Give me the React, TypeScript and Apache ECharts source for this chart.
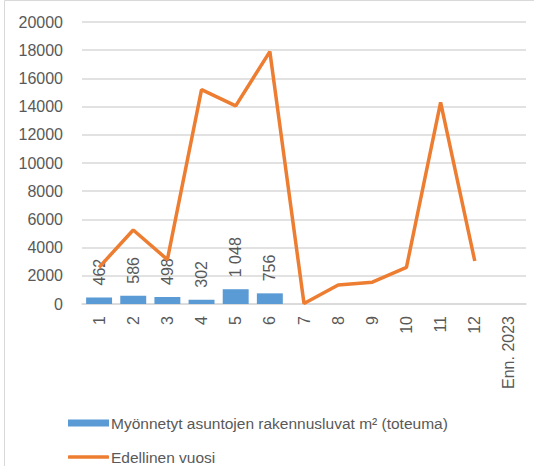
import React, { useEffect, useRef } from "react";
import * as echarts from "echarts";

const categories = ["1", "2", "3", "4", "5", "6", "7", "8", "9", "10", "11", "12", "Enn. 2023"];
const permits = [462, 586, 498, 302, 1048, 756, null, null, null, null, null, null, null];
const previousYear = [2600, 5250, 3150, 15200, 14050, 17900, 30, 1350, 1550, 2600, 14300, 3050, null];
const yTicks = { min: 0, max: 20000, interval: 2000 };
const seriesNames = ["Myönnetyt asuntojen rakennusluvat m² (toteuma)", "Edellinen vuosi"];

const FONT = "Liberation Sans";
const GRAY = "#595959";

export default function App() {
  const ref = useRef<HTMLDivElement>(null);
  useEffect(() => {
    document.body.style.margin = "0";
    const chart = echarts.init(ref.current!, null, { renderer: "svg" });
    const legendText = { fontFamily: FONT, fontSize: 15.5, color: GRAY, padding: [0, 0, 0, -3] };
    chart.setOption({
      animation: false,
      backgroundColor: "#ffffff",
      textStyle: { fontFamily: FONT },
      graphic: [
        {
          type: "rect",
          shape: { x: 4.5, y: 0.5, width: 600, height: 600 },
          style: { fill: "none", stroke: "#D9D9D9", lineWidth: 1 },
          silent: true,
        },
      ],
      grid: { left: 82, right: 8, top: 22, bottom: 162, containLabel: false },
      legend: [
        {
          orient: "horizontal",
          left: 68,
          top: 415,
          padding: 0,
          itemWidth: 41,
          itemHeight: 7,
          icon: "rect",
          textStyle: legendText,
          data: [seriesNames[0]],
        },
        {
          orient: "horizontal",
          left: 68,
          top: 449,
          padding: 0,
          itemWidth: 41,
          itemHeight: 3.5,
          icon: "roundRect",
          textStyle: legendText,
          data: [seriesNames[1]],
        },
      ],
      xAxis: {
        type: "category",
        data: categories,
        axisLine: { show: true, lineStyle: { color: "#D9D9D9", width: 1.5 } },
        axisTick: { show: false },
        axisLabel: { rotate: 90, color: GRAY, fontSize: 16, fontFamily: FONT, margin: 12 },
      },
      yAxis: {
        type: "value",
        min: yTicks.min,
        max: yTicks.max,
        interval: yTicks.interval,
        axisLine: { show: false },
        axisTick: { show: false },
        splitLine: { lineStyle: { color: "#D9D9D9", width: 1.5 } },
        axisLabel: { color: GRAY, fontSize: 16, fontFamily: FONT, margin: 19, formatter: (v: number) => String(v) },
      },
      series: [
        {
          name: seriesNames[0],
          type: "bar",
          data: permits,
          barCategoryGap: "24%",
          itemStyle: { color: "#5B9BD5" },
          label: {
            show: true,
            position: "top",
            distance: 12,
            rotate: 90,
            align: "left",
            verticalAlign: "middle",
            color: GRAY,
            fontSize: 16,
            fontFamily: FONT,
            formatter: (p: any) => String(p.value).replace(/\B(?=(\d{3})+(?!\d))/g, " "),
          },
        },
        {
          name: seriesNames[1],
          type: "line",
          data: previousYear,
          symbol: "none",
          connectNulls: false,
          lineStyle: { color: "#ED7D31", width: 3.5 },
          itemStyle: { color: "#ED7D31" },
        },
      ],
    });
    return () => chart.dispose();
  }, []);
  return <div ref={ref} style={{ width: 534, height: 466 }} />;
}
